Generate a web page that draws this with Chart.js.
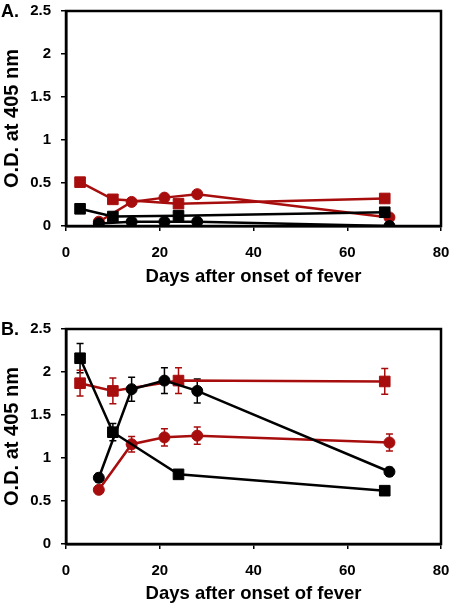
<!DOCTYPE html>
<html>
<head>
<meta charset="utf-8">
<script src="https://cdn.jsdelivr.net/npm/chart.js@4.4.0/dist/chart.umd.min.js"></script>
<style>
  body { margin: 0; background: #fff; }
  canvas { display: block; }
</style>
</head>
<body>
<canvas id="chartA" width="450" height="300"></canvas>
<canvas id="chartB" width="450" height="305"></canvas>
<script>
// sampling days (squares and circles were measured on different days)
const daysSquare = [3, 10, 24, 68];
const daysCircle = [7, 14, 21, 28, 69];
const xTicks = [0, 20, 40, 60, 80];
const yTicks = [0, 0.5, 1, 1.5, 2, 2.5];

// panel A
const redSquaresA = [0.51, 0.31, 0.26, 0.32];
const redCirclesA = [0.05, 0.28, 0.33, 0.37, 0.10];
const blackSquaresA = [0.20, 0.11, 0.12, 0.16];
const blackCirclesA = [0.03, 0.05, 0.05, 0.05, 0.00];

// panel B (with error bars)
const redSquaresB = [1.87, 1.78, 1.90, 1.89];
const redSquaresBErr = [0.15, 0.15, 0.15, 0.15];
const redCirclesB = [0.63, 1.16, 1.24, 1.26, 1.18];
const redCirclesBErr = [0.03, 0.09, 0.10, 0.10, 0.10];
const blackSquaresB = [2.16, 1.30, 0.81, 0.62];
const blackSquaresBErr = [0.17, 0.10, 0.03, 0.02];
const blackCirclesB = [0.77, 1.80, 1.90, 1.78, 0.84];
const blackCirclesBErr = [0.05, 0.14, 0.15, 0.14, 0.05];

const RED = '#a80d0d';
const BLACK = '#000000';
const FONT = '"Liberation Sans", Arial, sans-serif';

function toPoints(days, values) {
  return days.map((d, i) => ({ x: d, y: values[i] }));
}

function series(days, values, errors, color, shape) {
  return {
    data: toPoints(days, values),
    errors: errors,
    showLine: true,
    borderColor: color,
    backgroundColor: color,
    borderWidth: 2.5,
    pointStyle: shape,
    pointRadius: shape === 'rect' ? 7.5 : 5.5,
    pointBorderWidth: 1,
    pointBorderColor: color,
    pointBackgroundColor: color
  };
}

// frame around the plot area plus panel letter
const framePlugin = {
  id: 'frame',
  afterDraw(chart, args, opts) {
    const { ctx, chartArea: a } = chart;
    ctx.save();
    ctx.strokeStyle = '#000';
    ctx.lineWidth = 2.5;
    ctx.strokeRect(a.left, a.top, a.right - a.left, a.bottom - a.top);
    ctx.fillStyle = '#000';
    ctx.font = 'bold 18px ' + FONT;
    ctx.textBaseline = 'middle';
    ctx.fillText(opts.letter, 1, a.top + 1);
    ctx.restore();
  }
};

const errorBarPlugin = {
  id: 'errorBars',
  beforeDatasetsDraw(chart) {
    const { ctx, scales: { x, y } } = chart;
    chart.data.datasets.forEach(ds => {
      if (!ds.errors) return;
      ctx.save();
      ctx.strokeStyle = ds.borderColor;
      ctx.lineWidth = 1.5;
      ds.data.forEach((p, i) => {
        const e = ds.errors[i];
        const px = x.getPixelForValue(p.x);
        const top = y.getPixelForValue(p.y + e);
        const bot = y.getPixelForValue(p.y - e);
        ctx.beginPath();
        ctx.moveTo(px, top); ctx.lineTo(px, bot);
        ctx.moveTo(px - 3.5, top); ctx.lineTo(px + 3.5, top);
        ctx.moveTo(px - 3.5, bot); ctx.lineTo(px + 3.5, bot);
        ctx.stroke();
      });
      ctx.restore();
    });
  }
};

function makePanel(id, letter, datasets, padTop, padBottom, xHeight) {
  const tickFont = { family: FONT, size: 15, weight: 'bold' };
  return new Chart(document.getElementById(id), {
    type: 'scatter',
    data: { datasets: datasets },
    plugins: [errorBarPlugin, framePlugin],
    options: {
      responsive: false,
      animation: false,
      layout: { padding: { top: padTop, right: 9, bottom: padBottom, left: 0 } },
      plugins: {
        legend: { display: false },
        tooltip: { enabled: false },
        frame: { letter: letter }
      },
      scales: {
        x: {
          type: 'linear',
          min: 0, max: 80,
          afterBuildTicks: s => { s.ticks = xTicks.map(v => ({ value: v })); },
          afterFit: s => { s.height = xHeight; s.paddingLeft = 0; s.paddingRight = 0; },
          grid: { drawOnChartArea: false, drawTicks: true, tickLength: 5, color: '#000', lineWidth: 1.5 },
          border: { display: true, color: '#000', width: 2.5 },
          ticks: { color: '#000', font: tickFont, padding: 13, maxRotation: 0 },
          title: { display: true, text: 'Days after onset of fever', color: '#000',
                   font: { family: FONT, size: 18.5, weight: 'bold' }, padding: 0 }
        },
        y: {
          type: 'linear',
          min: 0, max: 2.5,
          afterBuildTicks: s => { s.ticks = yTicks.map(v => ({ value: v })); },
          afterFit: s => { s.width = 66; s.paddingTop = 0; s.paddingBottom = 0; },
          grid: { drawOnChartArea: false, drawTicks: true, tickLength: 5, color: '#000', lineWidth: 1.5 },
          border: { display: true, color: '#000', width: 2.5 },
          ticks: { color: '#000', font: tickFont, padding: 10, callback: v => String(v) },
          title: { display: true, text: 'O.D. at 405 nm', color: '#000',
                   font: { family: FONT, size: 20, weight: 'bold' }, padding: 0 }
        }
      }
    }
  });
}

makePanel('chartA', 'A.', [
  series(daysSquare, blackSquaresA, null, BLACK, 'rect'),
  series(daysCircle, blackCirclesA, null, BLACK, 'circle'),
  series(daysSquare, redSquaresA, null, RED, 'rect'),
  series(daysCircle, redCirclesA, null, RED, 'circle')
], 11, 12, 62);

makePanel('chartB', 'B.', [
  series(daysSquare, blackSquaresB, blackSquaresBErr, BLACK, 'rect'),
  series(daysCircle, blackCirclesB, blackCirclesBErr, BLACK, 'circle'),
  series(daysSquare, redSquaresB, redSquaresBErr, RED, 'rect'),
  series(daysCircle, redCirclesB, redCirclesBErr, RED, 'circle')
], 29, 0, 61);
</script>
</body>
</html>
